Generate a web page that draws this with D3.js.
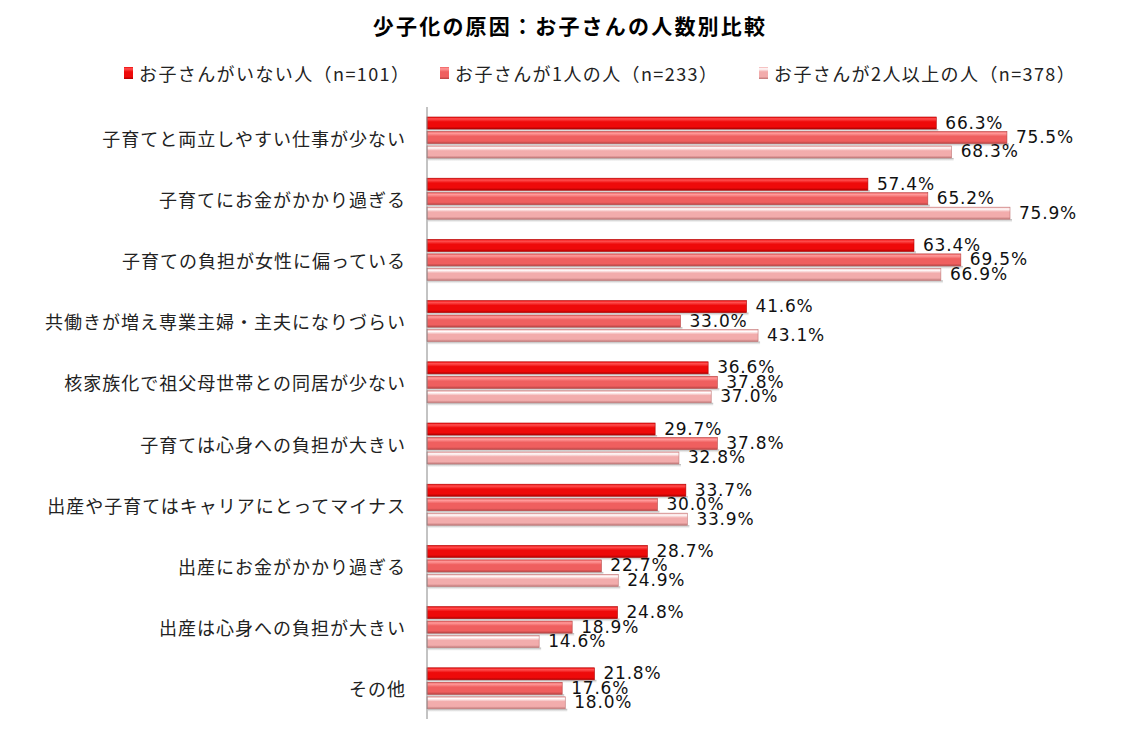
<!DOCTYPE html>
<html><head><meta charset="utf-8">
<script src="https://cdn.jsdelivr.net/npm/d3@7"></script>
<style>body{margin:0;background:#fff}</style>
</head><body>
<svg id="c" width="1139" height="737"></svg>
<script>
const categories = ["子育てと両立しやすい仕事が少ない","子育てにお金がかかり過ぎる","子育ての負担が女性に偏っている","共働きが増え専業主婦・主夫になりづらい","核家族化で祖父母世帯との同居が少ない","子育ては心身への負担が大きい","出産や子育てはキャリアにとってマイナス","出産にお金がかかり過ぎる","出産は心身への負担が大きい","その他"];
const seriesNames = ["お子さんがいない人（n=101）","お子さんが1人の人（n=233）","お子さんが2人以上の人（n=378）"];
const noChild = [66.3,57.4,63.4,41.6,36.6,29.7,33.7,28.7,24.8,21.8];
const oneChild = [75.5,65.2,69.5,33.0,37.8,37.8,30.0,22.7,18.9,17.6];
const twoPlus = [68.3,75.9,66.9,43.1,37.0,32.8,33.9,24.9,14.6,18.0];
const seriesValues = [noChild, oneChild, twoPlus];
const title = "少子化の原因：お子さんの人数別比較";

const svg = d3.select("#c");
const defs = svg.append("defs");
const grads = [
  {top:"#ff5050", mid:"#ee0a0a", bot:"#b00000"},
  {top:"#ff9a9a", mid:"#ef5f5f", bot:"#b84444"},
  {top:"#ffffff", mid:"#f2acac", bot:"#c07878"}
];
grads.forEach((g,i)=>{
  const lg = defs.append("linearGradient").attr("id","g"+i).attr("x1",0).attr("x2",0).attr("y1",0).attr("y2",1);
  lg.append("stop").attr("offset","0%").attr("stop-color",g.mid);
  lg.append("stop").attr("offset","15%").attr("stop-color",g.top);
  lg.append("stop").attr("offset","40%").attr("stop-color",g.mid);
  lg.append("stop").attr("offset","80%").attr("stop-color",g.mid);
  lg.append("stop").attr("offset","100%").attr("stop-color",g.bot);
});
const sh = defs.append("linearGradient").attr("id","sh").attr("x1",0).attr("x2",0).attr("y1",0).attr("y2",1);
sh.append("stop").attr("offset","0%").attr("stop-color","#999").attr("stop-opacity",0.8);
sh.append("stop").attr("offset","100%").attr("stop-color","#ddd").attr("stop-opacity",0.2);

const x = d3.scaleLinear().domain([0,80]).range([427,1041.5]);
const y = d3.scaleBand().domain(categories).range([107,719]);
const ys = d3.scaleBand().domain([0,1,2]).range([10,52]).paddingInner(0.1);

svg.append("text").attr("x",570).attr("y",34).attr("text-anchor","middle")
  .attr("font-family","Noto Sans CJK JP").attr("font-weight","bold").attr("font-size",21)
  .attr("letter-spacing",2.2).text(title);

// legend
const legX = [124,440,759];
seriesNames.forEach((n,i)=>{
  const g = svg.append("g");
  g.append("rect").attr("x",legX[i]).attr("y",67).attr("width",9).attr("height",12).attr("fill","url(#g"+i+")");
  g.append("text").attr("x",legX[i]+15).attr("y",73).attr("dominant-baseline","central")
    .attr("font-family","Noto Sans CJK JP").attr("font-size",18).attr("letter-spacing",1.4).attr("fill","#222").text(n);
});

// category labels
svg.append("g").selectAll("text").data(categories).join("text")
  .attr("x",406).attr("y",d=>y(d)+y.bandwidth()/2).attr("text-anchor","end")
  .attr("dominant-baseline","central").attr("font-family","Noto Sans CJK JP")
  .attr("font-size",18).attr("letter-spacing",1).attr("fill","#222").text(d=>d);

// bars
seriesValues.forEach((vals,si)=>{
  const g = svg.append("g");
  const data = vals.map((v,i)=>({c:categories[i],v}));
  g.selectAll("rect.s").data(data).join("rect")
    .attr("x",x(0)+1).attr("y",d=>y(d.c)+ys(si)+ys.bandwidth()-1)
    .attr("width",d=>x(d.v)-x(0)+1).attr("height",3).attr("fill","url(#sh)");
  g.selectAll("rect.b").data(data).join("rect")
    .attr("x",x(0)).attr("y",d=>y(d.c)+ys(si))
    .attr("width",d=>x(d.v)-x(0)).attr("height",ys.bandwidth()-1)
    .attr("fill","url(#g"+si+")").attr("stroke",grads[si].bot).attr("stroke-width",0.6);
  g.selectAll("text").data(data).join("text")
    .attr("x",d=>x(d.v)+9).attr("y",d=>y(d.c)+ys(si)+ys.bandwidth()/2-1)
    .attr("dominant-baseline","central").attr("font-family","DejaVu Sans, Verdana, sans-serif")
    .attr("font-size",17).attr("letter-spacing",0.8).attr("fill","#111").text(d=>d.v.toFixed(1)+"%");
});

svg.append("line").attr("x1",427).attr("x2",427).attr("y1",107).attr("y2",719)
  .attr("stroke","#888").attr("stroke-width",1);
</script>
</body></html>
